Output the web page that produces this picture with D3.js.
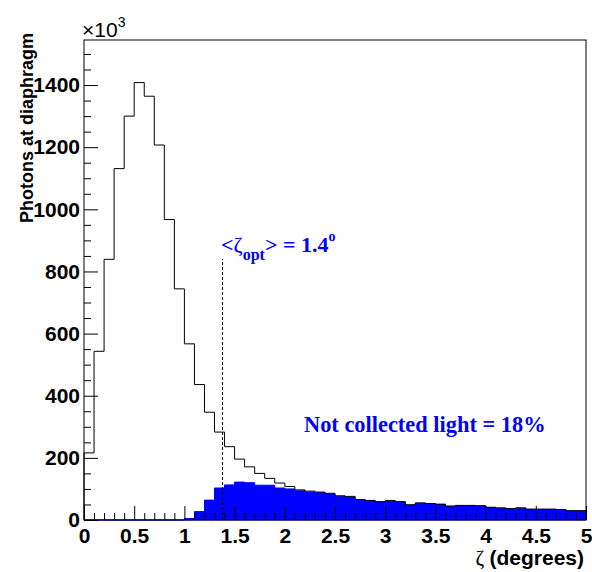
<!DOCTYPE html>
<html>
<head>
<meta charset="utf-8">
<script src="https://cdn.jsdelivr.net/npm/d3@7"></script>
<style>
  body { margin: 0; background: #fff; }
</style>
</head>
<body>
<div id="chart"></div>
<script>
// histogram bins: 0 to 5 degrees, 0.1 wide
const binWidth = 0.1;
const xDomain = [0, 5];
const yDomain = [0, 1545];

// all photons reaching the diaphragm (x10^3), one value per bin
const allPhotons = [216, 543, 839, 1131, 1300, 1408, 1364, 1207, 967, 744,
                    567, 436, 347, 283, 236, 196, 171, 150, 134, 119,
                    108, 97, 93, 90, 86, 78, 76, 66, 63, 59,
                    63, 59, 49, 55, 53, 51, 45, 47, 47, 46,
                    41, 39, 37, 39, 35, 35, 35, 34, 30, 30];

// photons outside the optimal cone (not collected)
const notCollected = [0, 0, 0, 0, 0, 0, 0, 0, 0, 0,
                      5, 27, 64, 103, 113, 122, 120, 112, 112, 103,
                      100, 94, 90, 88, 84, 76, 74, 65, 62, 58,
                      61, 58, 48, 54, 52, 50, 44, 46, 46, 45,
                      40, 38, 36, 38, 34, 34, 34, 33, 29, 29];

const xMajorTicks = [0, 0.5, 1, 1.5, 2, 2.5, 3, 3.5, 4, 4.5, 5];
const yMajorTicks = [0, 200, 400, 600, 800, 1000, 1200, 1400];
const zetaOpt = 1.38;
const zetaLineTop = 840;

const sans = '"Liberation Sans", Arial, Helvetica, sans-serif';
const serif = '"Liberation Serif", "Times New Roman", Times, serif';

const W = 592, H = 572;
const margin = { top: 40, right: 6, bottom: 52, left: 84 };

const svg = d3.select('#chart').append('svg')
    .attr('width', W)
    .attr('height', H)
    .attr('font-family', sans);

const x = d3.scaleLinear().domain(xDomain).range([margin.left, W - margin.right]);
const y = d3.scaleLinear().domain(yDomain).range([H - margin.bottom, margin.top]);

// points for a step histogram, closed down to zero at both ends
const stepPoints = vals => {
    const pts = [[0, 0]];
    vals.forEach((v, i) => pts.push([i * binWidth, v]));
    pts.push([xDomain[1], vals[vals.length - 1]]);
    pts.push([xDomain[1], 0]);
    return pts;
};

// blue filled histogram
svg.append('path')
    .datum(stepPoints(notCollected))
    .attr('d', d3.area()
        .x(d => x(d[0]))
        .y0(y(0))
        .y1(d => y(d[1]))
        .curve(d3.curveStepAfter))
    .attr('fill', '#0000ff')
    .attr('stroke', '#0000ff')
    .attr('stroke-width', 1);

// black outline histogram
svg.append('path')
    .datum(stepPoints(allPhotons))
    .attr('d', d3.line()
        .x(d => x(d[0]))
        .y(d => y(d[1]))
        .curve(d3.curveStepAfter))
    .attr('fill', 'none')
    .attr('stroke', '#000')
    .attr('stroke-width', 1);

// dashed line at <zeta_opt>
svg.append('line')
    .attr('x1', x(zetaOpt)).attr('x2', x(zetaOpt))
    .attr('y1', y(0)).attr('y2', y(zetaLineTop))
    .attr('stroke', '#000')
    .attr('stroke-dasharray', '3,2');

// minor ticks
const xMinor = d3.range(0, 50).map(i => i * binWidth).filter(v => !xMajorTicks.some(t => Math.abs(t - v) < 1e-6));
const yMinor = d3.range(0, 1545, 50).filter(v => v % 200 !== 0);

svg.append('g')
    .attr('transform', `translate(0,${y(0)})`)
    .call(d3.axisBottom(x).tickValues(xMinor).tickSize(-7).tickFormat(''))
    .call(g => g.select('.domain').remove());

svg.append('g')
    .attr('transform', `translate(${x(0)},0)`)
    .call(d3.axisLeft(y).tickValues(yMinor).tickSize(-7).tickFormat(''))
    .call(g => g.select('.domain').remove());

// major ticks with labels
svg.append('g')
    .attr('transform', `translate(0,${y(0)})`)
    .call(d3.axisBottom(x).tickValues(xMajorTicks).tickSize(-14).tickPadding(8).tickFormat(d3.format('')))
    .call(g => g.select('.domain').remove())
    .call(g => g.selectAll('text')
        .attr('font-family', sans)
        .attr('font-weight', 'bold')
        .attr('font-size', 21)
        .attr('fill', '#000'));

svg.append('g')
    .attr('transform', `translate(${x(0)},0)`)
    .call(d3.axisLeft(y).tickValues(yMajorTicks).tickSize(-14).tickPadding(4).tickFormat(d3.format('d')))
    .call(g => g.select('.domain').remove())
    .call(g => g.selectAll('text')
        .attr('font-family', sans)
        .attr('font-weight', 'bold')
        .attr('font-size', 21)
        .attr('fill', '#000'));

svg.selectAll('.tick line').attr('stroke', '#000');

// frame
svg.append('rect')
    .attr('x', x(0)).attr('y', y(yDomain[1]))
    .attr('width', x(xDomain[1]) - x(0))
    .attr('height', y(0) - y(yDomain[1]))
    .attr('fill', 'none')
    .attr('stroke', '#000');

// x10^3 multiplier
const mult = svg.append('text')
    .attr('x', 82).attr('y', 37)
    .attr('font-size', 21);
mult.append('tspan').text('\u00d710');
mult.append('tspan').attr('font-size', 14).attr('dy', -10).text('3');

// axis titles
svg.append('text')
    .attr('transform', 'translate(33,33) rotate(-90)')
    .attr('text-anchor', 'end')
    .attr('font-weight', 'bold')
    .attr('font-size', 18)
    .text('Photons at diaphragm');

const xt = svg.append('text')
    .attr('x', x(xDomain[1]) - 2).attr('y', 565)
    .attr('text-anchor', 'end')
    .attr('font-size', 21);
xt.append('tspan').attr('font-family', serif).text('\u03b6 ');
xt.append('tspan').attr('font-weight', 'bold').text('(degrees)');

// annotations
const ann = svg.append('text')
    .attr('x', 221).attr('y', 252)
    .attr('fill', '#0000ff')
    .attr('font-family', serif)
    .attr('font-weight', 'bold')
    .attr('font-size', 22);
ann.append('tspan').text('<');
ann.append('tspan').attr('font-weight', 'normal').text('\u03b6');
ann.append('tspan').attr('font-size', 16).attr('dy', 8).text('opt');
ann.append('tspan').attr('dy', -8).text('> = 1.4');
ann.append('tspan').attr('font-size', 14).attr('dy', -11).text('o');

svg.append('text')
    .attr('x', 304).attr('y', 432)
    .attr('fill', '#0000ff')
    .attr('font-family', serif)
    .attr('font-weight', 'bold')
    .attr('font-size', 22.4)
    .text('Not collected light = 18%');
</script>
</body>
</html>
